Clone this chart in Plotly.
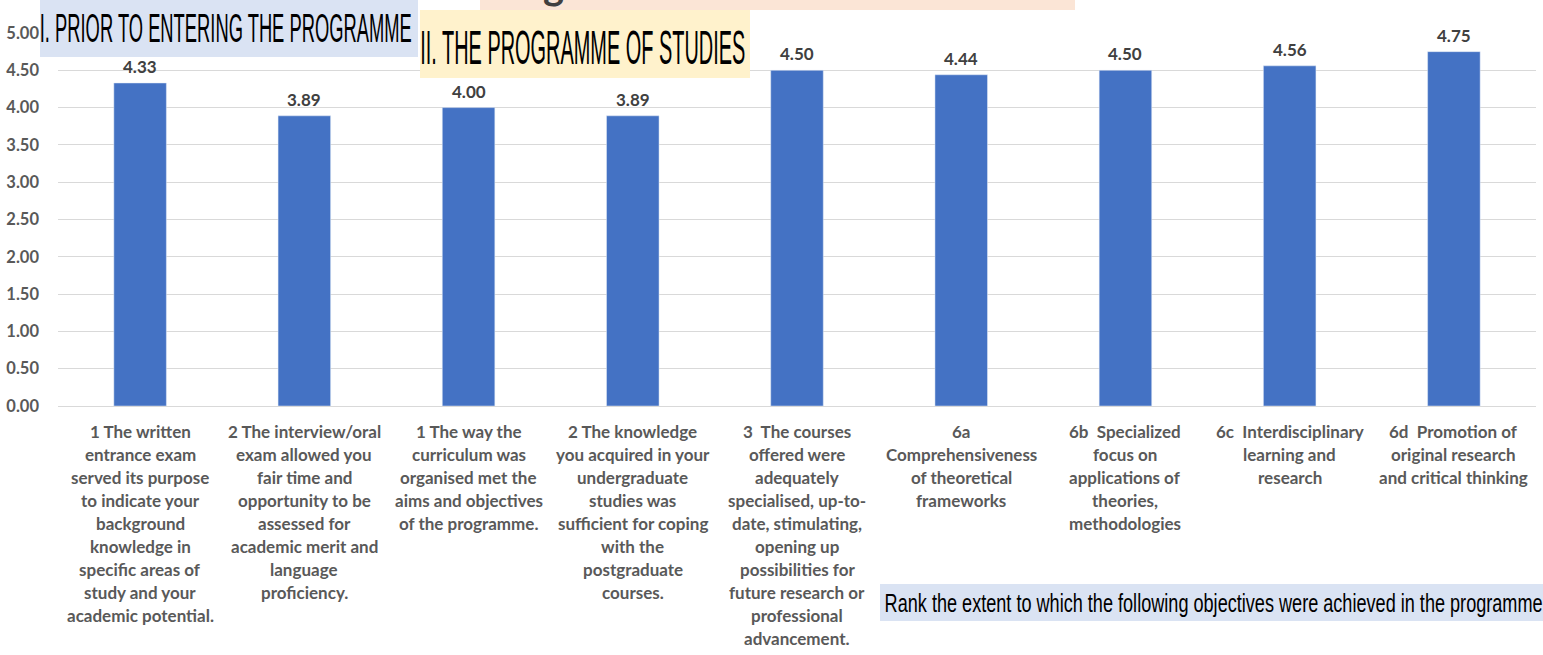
import plotly.graph_objects as go

categories = [
    "1 The written<br>entrance exam<br>served its purpose<br>to indicate your<br>background<br>knowledge in<br>specific areas of<br>study and your<br>academic potential.",
    "2 The interview/oral<br>exam allowed you<br>fair time and<br>opportunity to be<br>assessed for<br>academic merit and<br>language<br>proficiency.",
    "1 The way the<br>curriculum was<br>organised met the<br>aims and objectives<br>of the programme.",
    "2 The knowledge<br>you acquired in your<br>undergraduate<br>studies was<br>sufficient for coping<br>with the<br>postgraduate<br>courses.",
    "3  The courses<br>offered were<br>adequately<br>specialised, up-to-<br>date, stimulating,<br>opening up<br>possibilities for<br>future research or<br>professional<br>advancement.",
    "6a<br>Comprehensiveness<br>of theoretical<br>frameworks",
    "6b  Specialized<br>focus on<br>applications of<br>theories,<br>methodologies",
    "6c  Interdisciplinary<br>learning and<br>research",
    "6d  Promotion of<br>original research<br>and critical thinking",
]
values = [4.33, 3.89, 4.00, 3.89, 4.50, 4.44, 4.50, 4.56, 4.75]
value_labels = ["4.33", "3.89", "4.00", "3.89", "4.50", "4.44", "4.50", "4.56", "4.75"]
y_ticks = [0, 0.5, 1, 1.5, 2, 2.5, 3, 3.5, 4, 4.5, 5]
header1 = "I. PRIOR TO ENTERING THE PROGRAMME"
header2 = "II. THE PROGRAMME OF STUDIES"
footer = "Rank the extent to which the following objectives were achieved in the programme"

W, H = 1543, 655
L, R, T, B = 58, 7, 33, 249
PW, PH = W - L - R, H - T - B

def px(x):
    return (x - L) / PW

def py(y):
    return (H - B - y) / PH

LABEL_FONT = "Lato, Calibri, Carlito, sans-serif"
NARROW = "Liberation Sans, Arial, sans-serif"

fig = go.Figure()
fig.add_trace(go.Bar(
    x=categories, y=values,
    marker=dict(color="#4472c4"), hoverinfo="skip",
))

annotations = []
for cat in categories:
    for i, line in enumerate(cat.split("<br>")):
        annotations.append(dict(
            x=cat, y=0, xref="x", yref="y", text=line, showarrow=False,
            yanchor="middle", xanchor="center", yshift=-(25 + 23 * i),
            font=dict(family=LABEL_FONT, size=17, color="#595959", weight="bold"),
        ))
for cat, v, lab in zip(categories, values, value_labels):
    annotations.append(dict(
        x=cat, y=v, xref="x", yref="y", text=lab, showarrow=False,
        yanchor="bottom", xanchor="center", yshift=4,
        font=dict(family=LABEL_FONT, size=17, color="#404040", weight="bold"),
    ))

shapes = [
    dict(type="rect", xref="paper", yref="paper", x0=px(480), x1=px(1075), y0=py(10), y1=py(-2),
         fillcolor="#fbe5d6", line=dict(width=0), layer="above"),
    dict(type="rect", xref="paper", yref="paper", x0=px(40), x1=px(418), y0=py(57), y1=py(-2),
         fillcolor="#dae3f3", line=dict(width=0), layer="above"),
    dict(type="rect", xref="paper", yref="paper", x0=px(420), x1=px(750), y0=py(78), y1=py(10),
         fillcolor="#fff2cc", line=dict(width=0), layer="above"),
    dict(type="rect", xref="paper", yref="paper", x0=px(880), x1=px(1543), y0=py(621), y1=py(584),
         fillcolor="#dae3f3", line=dict(width=0), layer="above"),
]

stretch = []
def add_stretched(text, cx, cy, size, length):
    stretch.append((len(annotations), length))
    annotations.append(dict(
        x=px(cx), y=py(cy), xref="paper", yref="paper", text=text, showarrow=False,
        xanchor="center", yanchor="middle", align="center",
        font=dict(family=NARROW, size=size, color="#000000"),
    ))

add_stretched(header1, 226, 28, 41, 372)
add_stretched(header2, 583, 47, 49, 325)
add_stretched(footer, 1213, 603, 26, 658)

annotations.append(dict(
    x=px(553), y=py(10), xref="paper", yref="paper", text="g", showarrow=False,
    xanchor="center", yanchor="bottom", font=dict(family=LABEL_FONT, size=40, color="#404040", weight="bold"),
))

fig.update_layout(
    width=W, height=H, margin=dict(l=L, r=R, t=T, b=B, pad=0),
    plot_bgcolor="white", paper_bgcolor="white", showlegend=False,
    bargap=0.68, shapes=shapes, annotations=annotations,
    xaxis=dict(showticklabels=False, showgrid=False, showline=False, zeroline=False, ticks=""),
    yaxis=dict(range=[0, 5], tickvals=y_ticks, tickformat=".2f", showgrid=True, gridcolor="#d9d9d9",
               gridwidth=1, zeroline=True, zerolinecolor="#d9d9d9", zerolinewidth=1, showline=False,
               ticks="", ticklabelstandoff=18,
               tickfont=dict(family=LABEL_FONT, size=16.5, color="#595959", weight="bold")),
)

pairs = ",".join("[%d,%d]" % p for p in stretch)
post = """
document.body.style.margin='0';
var gd=document.getElementById('{plot_id}');
[%s].forEach(function(p){
  var t=gd.querySelector('g.annotation[data-index="'+p[0]+'"] text.annotation-text');
  if(t){t.setAttribute('textLength',p[1]);t.setAttribute('lengthAdjust','spacingAndGlyphs');}
});
""" % pairs

fig.write_html("out.html", post_script=post, config={"displayModeBar": False})
